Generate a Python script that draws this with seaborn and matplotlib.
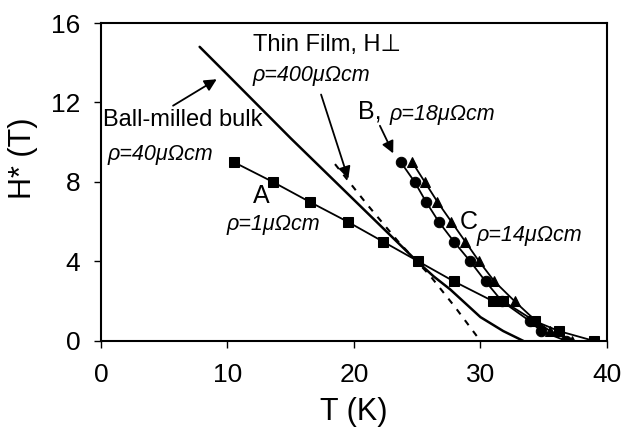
import matplotlib
matplotlib.use("Agg")
import matplotlib.pyplot as plt
import seaborn as sns

# sample A, rho = 1 uOhm cm (squares)
a_t = [10.5, 13.6, 16.5, 19.5, 22.3, 25.1, 27.9, 31.0, 31.8, 34.3, 36.2, 39.0]
a_h = [9, 8, 7, 6, 5, 4, 3, 2, 2, 1, 0.5, 0]

# sample B, rho = 18 uOhm cm (circles)
b_t = [23.7, 24.8, 25.7, 26.7, 27.9, 29.2, 30.4, 31.7, 33.9, 34.8, 36.8]
b_h = [9, 8, 7, 6, 5, 4, 3, 2, 1, 0.5, 0]

# sample C, rho = 14 uOhm cm (triangles)
c_t = [24.6, 25.6, 26.6, 27.7, 28.8, 29.9, 31.1, 32.7, 34.4, 35.5, 37.2]
c_h = [9, 8, 7, 6, 5, 4, 3, 2, 1, 0.5, 0]

# ball-milled bulk (solid curve)
bulk_t = [7.8, 10, 15, 20, 25, 26.3, 27.6, 28.8, 30, 31.8, 33.4]
bulk_h = [14.8, 13.4, 10.2, 7.1, 4.0, 3.25, 2.6, 1.9, 1.2, 0.5, 0]

# thin film, H perpendicular (dashed curve)
film_t = [18.5, 21, 23.5, 26, 28, 30]
film_h = [8.9, 6.9, 5.0, 3.3, 1.7, 0]

x_ticks = [0, 10, 20, 30, 40]
y_ticks = [0, 4, 8, 12, 16]

sns.set_style("ticks")
plt.rcParams['font.family'] = ['Liberation Sans', 'DejaVu Sans']
plt.rcParams['text.color'] = 'black'
plt.rcParams['axes.labelcolor'] = 'black'

fig, ax = plt.subplots(figsize=(6.26, 4.34), dpi=100)
fig.subplots_adjust(left=0.1613, right=0.9696, bottom=0.2143, top=0.947)

sns.lineplot(x=bulk_t, y=bulk_h, color='black', linewidth=1.8, sort=False, ax=ax)
sns.lineplot(x=film_t, y=film_h, color='black', linewidth=1.5, sort=False,
             linestyle=(0, (3, 3.5)), ax=ax)
sns.lineplot(x=a_t, y=a_h, color='black', linewidth=1.3, sort=False, marker='s',
             markersize=7, markeredgecolor='black', ax=ax)
sns.lineplot(x=b_t, y=b_h, color='black', linewidth=1.3, sort=False, marker='o',
             markersize=7.5, markeredgecolor='black', ax=ax)
sns.lineplot(x=c_t, y=c_h, color='black', linewidth=1.3, sort=False, marker='^',
             markersize=7.5, markeredgecolor='black', ax=ax)

ax.set_xlim(0, 40)
ax.set_ylim(0, 16)
ax.set_xticks(x_ticks)
ax.set_yticks(y_ticks)
ax.tick_params(axis='both', direction='out', length=5, width=1, colors='black',
               labelsize=19)
ax.tick_params(axis='x', pad=11)
ax.tick_params(axis='y', pad=10)
for sp in ax.spines.values():
    sp.set_visible(True)
    sp.set_color('black')
    sp.set_linewidth(1.5)

ax.set_xlabel('T (K)', fontsize=22)
ax.set_ylabel('H* (T)', fontsize=22)
ax.xaxis.set_label_coords(0.5, -0.175)
ax.yaxis.set_label_coords(-0.125, 0.575)

arrow = dict(arrowstyle='-|>', color='black', lw=1.3, mutation_scale=18, shrinkA=0, shrinkB=0)
ax.annotate('', xy=(9.15, 13.17), xytext=(5.7, 11.84), arrowprops=arrow)
ax.annotate('', xy=(19.55, 8.16), xytext=(17.4, 12.4), arrowprops=arrow)
ax.annotate('', xy=(23.1, 9.44), xytext=(22.05, 10.83), arrowprops=arrow)

ax.text(12.0, 14.9, 'Thin Film, H\u22a5', fontsize=17, ha='left', va='center')
ax.text(12.0, 13.37, '\u03c1=400\u03bc\u03a9cm', fontsize=15.5, style='italic', ha='left', va='center')
ax.text(0.15, 11.13, 'Ball-milled bulk', fontsize=17, ha='left', va='center')
ax.text(0.55, 9.4, '\u03c1=40\u03bc\u03a9cm', fontsize=15.5, style='italic', ha='left', va='center')
ax.text(12.7, 7.32, 'A', fontsize=18, ha='center', va='center')
ax.text(9.94, 5.87, '\u03c1=1\u03bc\u03a9cm', fontsize=15.5, style='italic', ha='left', va='center')
ax.text(20.3, 11.53, 'B,', fontsize=18, ha='left', va='center')
ax.text(22.85, 11.38, '\u03c1=18\u03bc\u03a9cm', fontsize=15.5, style='italic', ha='left', va='center')
ax.text(28.4, 5.98, 'C', fontsize=18, ha='left', va='center')
ax.text(29.7, 5.29, '\u03c1=14\u03bc\u03a9cm', fontsize=15.5, style='italic', ha='left', va='center')

fig.savefig('out.png', dpi=100)
